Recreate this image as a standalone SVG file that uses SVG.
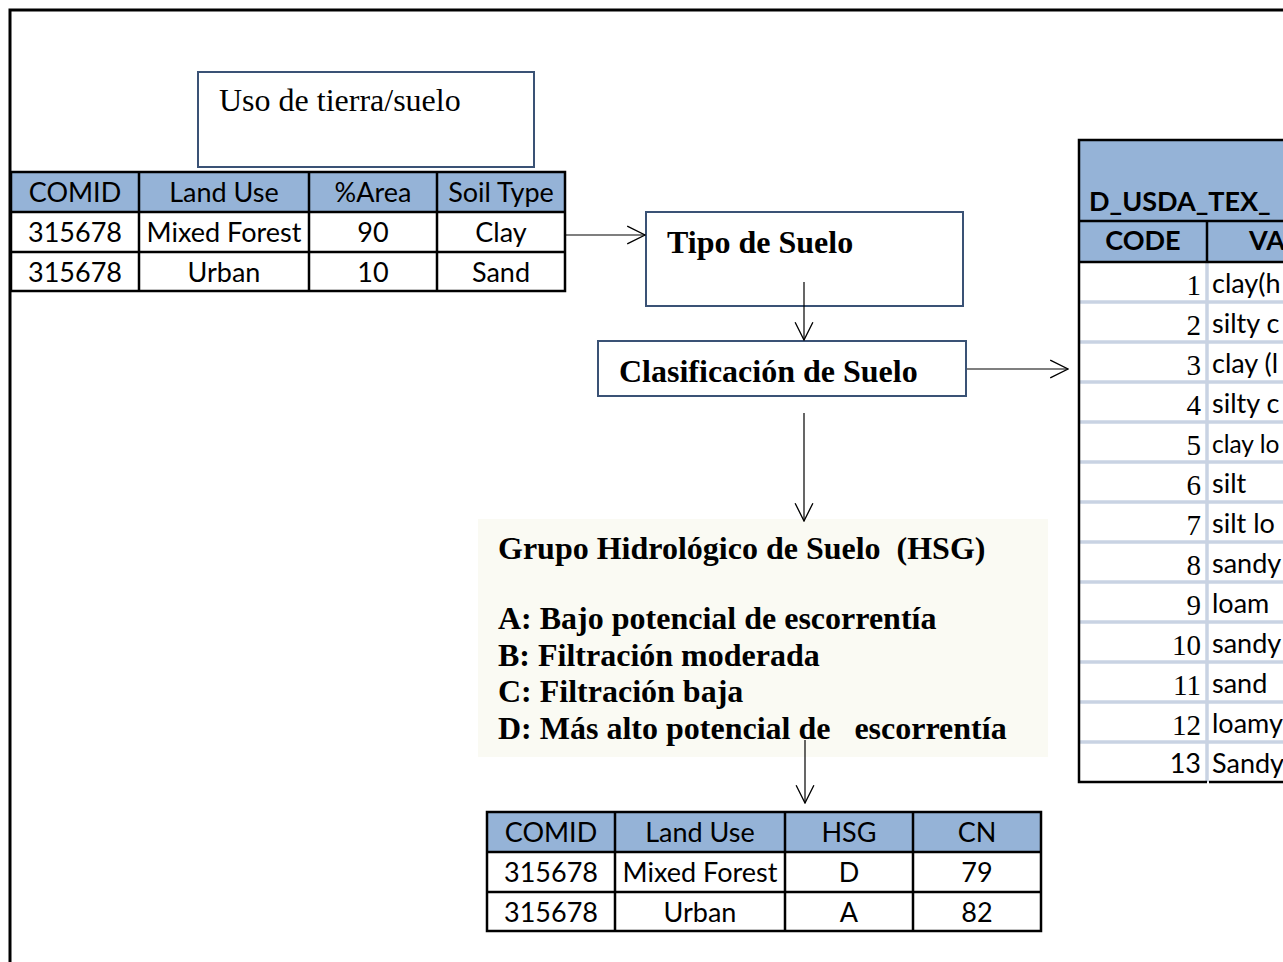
<svg xmlns="http://www.w3.org/2000/svg" width="1283" height="962" viewBox="0 0 1283 962">
<defs>
<style>
.frame{fill:none;stroke:#000;stroke-width:3}
.box{fill:#fff;stroke:#3a5275;stroke-width:2}
.hdr{fill:#95b3d7}
.cell{fill:#fff}
.grid{stroke:#000;stroke-width:2.5;fill:none}
.lgrid{stroke:#c9d3e3;stroke-width:3.5;fill:none}
.t{font-family:Lato,"Liberation Sans",sans-serif;font-size:27px;fill:#000}
.c{text-anchor:middle}
.b{font-weight:bold}
.s{font-family:"Liberation Serif","Times New Roman",serif;fill:#000}
.num{font-family:"Liberation Serif","Times New Roman",serif;font-size:29px;text-anchor:end;fill:#000}
.conn{stroke:#000;stroke-width:1.2;fill:none;marker-end:url(#ah)}
</style>
<marker id="ah" markerUnits="userSpaceOnUse" markerWidth="20" markerHeight="20" viewBox="-17 -9 18 18" refX="0" refY="0" orient="auto">
<path d="M-16,-8 L0,0 L-16,8" fill="none" stroke="#000" stroke-width="1.2"/>
</marker>
</defs>
<rect width="1283" height="962" fill="#fff"/>
<path class="frame" d="M10,962 V10 H1283"/>

<g id="uso">
<rect class="box" x="198" y="72" width="336" height="95"/>
<text class="s" x="219" y="111" font-size="32">Uso de tierra/suelo</text>
</g>

<g id="tabla-uso">
<rect class="hdr" x="11" y="172" width="554" height="40"/>
<rect class="cell" x="11" y="212" width="554" height="79"/>
<path class="grid" d="M11,172 H565 V291 H11 Z M11,212 H565 M11,252 H565 M139,172 V291 M309,172 V291 M437,172 V291"/>
<text class="t c" x="75" y="202">COMID</text>
<text class="t c" x="224" y="202">Land Use</text>
<text class="t c" x="373" y="202">%Area</text>
<text class="t c" x="501" y="202">Soil Type</text>
<text class="t c" x="75" y="242">315678</text>
<text class="t c" x="224" y="242">Mixed Forest</text>
<text class="t c" x="373" y="242">90</text>
<text class="t c" x="501" y="242">Clay</text>
<text class="t c" x="75" y="282">315678</text>
<text class="t c" x="224" y="282">Urban</text>
<text class="t c" x="373" y="282">10</text>
<text class="t c" x="501" y="282">Sand</text>
</g>

<g id="tipo">
<rect class="box" x="646" y="212" width="317" height="94"/>
<text class="s b" x="667" y="253" font-size="32">Tipo de Suelo</text>
</g>

<g id="clasificacion">
<rect class="box" x="598" y="341" width="368" height="55"/>
<text class="s b" x="619" y="382" font-size="32">Clasificación de Suelo</text>
</g>

<g id="hsg">
<rect x="478" y="519" width="570" height="238" fill="#fafaf3"/>
<text class="s b" x="498" y="559" font-size="32" xml:space="preserve">Grupo Hidrológico de Suelo  (HSG)</text>
<text class="s b" x="498" y="629" font-size="32">A: Bajo potencial de escorrentía</text>
<text class="s b" x="498" y="666" font-size="32">B: Filtración moderada</text>
<text class="s b" x="498" y="702" font-size="32">C: Filtración baja</text>
<text class="s b" x="498" y="739" font-size="32" xml:space="preserve">D: Más alto potencial de   escorrentía</text>
</g>

<g id="tabla-cn">
<rect class="hdr" x="487" y="812" width="554" height="40"/>
<rect class="cell" x="487" y="852" width="554" height="79"/>
<path class="grid" d="M487,812 H1041 V931 H487 Z M487,852 H1041 M487,892 H1041 M615,812 V931 M785,812 V931 M913,812 V931"/>
<text class="t c" x="551" y="842">COMID</text>
<text class="t c" x="700" y="842">Land Use</text>
<text class="t c" x="849" y="842">HSG</text>
<text class="t c" x="977" y="842">CN</text>
<text class="t c" x="551" y="882">315678</text>
<text class="t c" x="700" y="882">Mixed Forest</text>
<text class="t c" x="849" y="882">D</text>
<text class="t c" x="977" y="882">79</text>
<text class="t c" x="551" y="922">315678</text>
<text class="t c" x="700" y="922">Urban</text>
<text class="t c" x="849" y="922">A</text>
<text class="t c" x="977" y="922">82</text>
</g>

<g id="tabla-usda">
<rect class="hdr" x="1079" y="140" width="204" height="122"/>
<rect class="cell" x="1079" y="262" width="204" height="520"/>
<path class="lgrid" d="M1079,302 H1283 M1079,342 H1283 M1079,382 H1283 M1079,422 H1283 M1079,462 H1283 M1079,502 H1283 M1079,542 H1283 M1079,582 H1283 M1079,622 H1283 M1079,662 H1283 M1079,702 H1283 M1079,742 H1283 M1207,262 V782"/>
<path class="grid" d="M1283,140 H1079 V782 H1207 M1209,782 H1283 M1079,221 H1283 M1079,262 H1283 M1207,221 V262" stroke-width="3"/>
<text class="t b" x="1089" y="211">D_USDA_TEX_</text>
<text class="t b c" x="1143" y="250">CODE</text>
<text class="t b" x="1249" y="250">VA</text>
<text class="num" x="1201" y="295">1</text>
<text class="num" x="1201" y="335">2</text>
<text class="num" x="1201" y="375">3</text>
<text class="num" x="1201" y="415">4</text>
<text class="num" x="1201" y="455">5</text>
<text class="num" x="1201" y="495">6</text>
<text class="num" x="1201" y="535">7</text>
<text class="num" x="1201" y="575">8</text>
<text class="num" x="1201" y="615">9</text>
<text class="num" x="1201" y="655">10</text>
<text class="num" x="1201" y="695">11</text>
<text class="num" x="1201" y="735">12</text>
<text class="t" x="1201" y="773" text-anchor="end">13</text>
<text class="t" x="1212" y="293">clay(h</text>
<text class="t" x="1212" y="333">silty c</text>
<text class="t" x="1212" y="373">clay (l</text>
<text class="t" x="1212" y="413">silty c</text>
<text class="t" x="1212" y="453" style="font-size:24.5px">clay lo</text>
<text class="t" x="1212" y="493">silt</text>
<text class="t" x="1212" y="533">silt lo</text>
<text class="t" x="1212" y="573">sandy</text>
<text class="t" x="1212" y="613">loam</text>
<text class="t" x="1212" y="653">sandy</text>
<text class="t" x="1212" y="693">sand</text>
<text class="t" x="1212" y="733">loamy</text>
<text class="t" x="1212" y="773">Sandy</text>
</g>

<g id="connectors">
<line class="conn" x1="566" y1="235" x2="645" y2="235"/>
<line class="conn" x1="804" y1="282" x2="804" y2="340"/>
<line class="conn" x1="967" y1="369" x2="1068" y2="369"/>
<line class="conn" x1="804" y1="413" x2="804" y2="521"/>
<line class="conn" x1="805" y1="740" x2="805" y2="803"/>
</g>
</svg>
